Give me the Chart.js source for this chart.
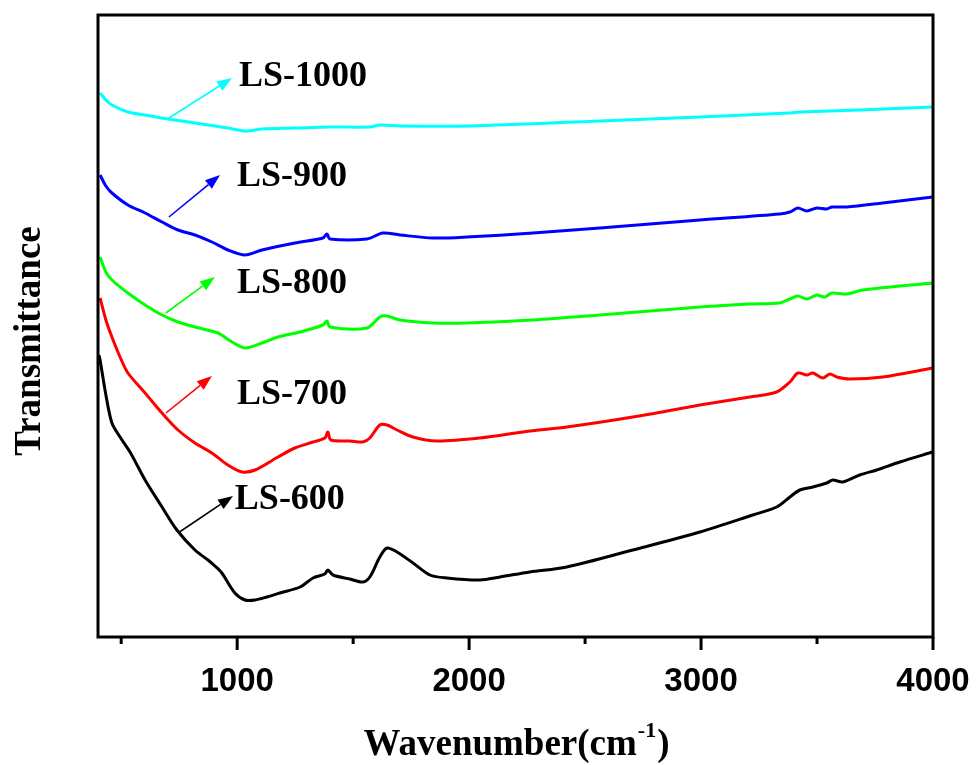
<!DOCTYPE html>
<html>
<head>
<meta charset="utf-8">
<script src="https://cdn.jsdelivr.net/npm/chart.js@4.4.1/dist/chart.umd.min.js"></script>
<style>
  html, body { margin: 0; padding: 0; background: #fff; }
</style>
</head>
<body>
<canvas id="grafico" width="977" height="765"></canvas>
<script>
// --- DATA (wavenumber cm-1, transmittance a.u.) ---
const ls600 = [[404,282],[409,277],[434,242],[460,214],[495,200],[538,185],[603,157],[676,130],[740,107],[818,87],[874,77],[904,71],[934,64],[990,44],[1034,37],[1077,37],[1128,40],[1184,44],[1271,50],[1327,59],[1378,63],[1391,67],[1413,62],[1486,58],[1542,55],[1572,60],[1615,80],[1646,89],[1689,85],[1758,74],[1831,62],[1904,59],[2046,57],[2133,60],[2262,65],[2421,70],[2706,87],[2995,105],[3223,122],[3326,130],[3383,140],[3426,147],[3482,150],[3542,154],[3568,157],[3611,155],[3684,162],[3757,167],[3857,175],[3999,185]];
const ls700 = [[409,339],[434,317],[460,300],[495,280],[529,264],[603,244],[676,224],[745,207],[818,194],[891,184],[960,172],[1021,165],[1077,167],[1176,180],[1249,189],[1327,195],[1378,199],[1391,205],[1404,197],[1486,196],[1542,195],[1572,199],[1615,212],[1646,212],[1689,207],[1758,200],[1861,196],[2046,199],[2262,206],[2421,210],[2706,220],[2995,232],[3210,240],[3326,245],[3383,255],[3417,264],[3456,262],[3482,264],[3525,259],[3555,263],[3585,260],[3641,258],[3783,260],[3999,269]];
const ls800 = [[409,380],[434,365],[460,357],[529,344],[603,332],[676,322],[745,315],[818,310],[917,304],[978,295],[1034,289],[1107,294],[1176,300],[1271,305],[1370,312],[1387,316],[1400,310],[1559,309],[1615,320],[1646,321],[1702,317],[1844,314],[1990,314],[2275,317],[2564,322],[2995,330],[3210,333],[3339,334],[3383,338],[3417,341],[3456,338],[3499,342],[3533,340],[3564,344],[3628,343],[3697,347],[3999,354]];
const ls900 = [[409,462],[434,451],[460,444],[529,432],[603,424],[676,415],[745,407],[818,402],[891,395],[960,387],[1034,382],[1107,387],[1249,394],[1370,399],[1387,403],[1400,398],[1559,398],[1628,404],[1702,402],[1844,399],[1990,400],[2275,404],[2564,409],[2995,417],[3339,423],[3383,425],[3417,429],[3456,426],[3499,429],[3542,428],[3564,430],[3628,430],[3783,434],[3999,440]];
const ls1000 = [[409,544],[434,537],[460,532],[529,525],[603,522],[702,518],[818,514],[960,509],[1034,506],[1107,508],[1249,509],[1400,510],[1572,510],[1615,512],[1702,511],[2003,511],[2564,516],[2995,520],[3383,524],[3426,525],[3684,527],[3999,530]];

const seriesNames = ["LS-1000", "LS-900", "LS-800", "LS-700", "LS-600"];
const seriesData = [ls1000, ls900, ls800, ls700, ls600];
const seriesColors = ["#00ffff", "#0000ff", "#00ff00", "#ff0000", "#000000"];

// label anchors and arrows, in data units
const labelAt = [[1008,551],[999,451],[999,344],[999,233],[990,128]];
const arrowFrom = [[706,519],[706,420],[693,324],[693,224],[745,104]];
const arrowTo = [[978,559],[926,462],[904,360],[891,261],[982,141]];

const tickValues = [500, 1000, 1500, 2000, 2500, 3000, 3500, 4000];

const serif = '"Times New Roman", "Liberation Serif", serif';
const sans = 'Arial, "Liberation Sans", sans-serif';

// --- PLUGIN: frame, ticks, labels, arrows, titles ---
const decoraciones = {
  id: "decoraciones",
  afterDatasetsDraw(chart) {
    const { ctx, chartArea: a, scales: { x, y } } = chart;
    ctx.save();

    // frame
    ctx.strokeStyle = "#000";
    ctx.lineWidth = 3;
    ctx.strokeRect(a.left, a.top, a.right - a.left, a.bottom - a.top);

    // ticks (major longer)
    tickValues.forEach(v => {
      const px = x.getPixelForValue(v);
      const len = v % 1000 === 0 ? 13 : 7;
      ctx.beginPath();
      ctx.moveTo(px, a.bottom);
      ctx.lineTo(px, a.bottom + len);
      ctx.stroke();
    });

    // arrows
    seriesNames.forEach((name, i) => {
      const x0 = x.getPixelForValue(arrowFrom[i][0]);
      const y0 = y.getPixelForValue(arrowFrom[i][1]);
      const x1 = x.getPixelForValue(arrowTo[i][0]);
      const y1 = y.getPixelForValue(arrowTo[i][1]);
      const ang = Math.atan2(y1 - y0, x1 - x0);
      const headL = 15, headW = 5.5;
      const bx = x1 - headL * Math.cos(ang), by = y1 - headL * Math.sin(ang);
      ctx.strokeStyle = seriesColors[i];
      ctx.fillStyle = seriesColors[i];
      ctx.lineWidth = 1.6;
      ctx.beginPath();
      ctx.moveTo(x0, y0);
      ctx.lineTo(bx, by);
      ctx.stroke();
      ctx.beginPath();
      ctx.moveTo(x1, y1);
      ctx.lineTo(bx + headW * Math.sin(ang), by - headW * Math.cos(ang));
      ctx.lineTo(bx - headW * Math.sin(ang), by + headW * Math.cos(ang));
      ctx.closePath();
      ctx.fill();
    });

    // series labels
    ctx.fillStyle = "#000";
    ctx.font = "bold 36px " + serif;
    ctx.textAlign = "left";
    ctx.textBaseline = "alphabetic";
    seriesNames.forEach((name, i) => {
      ctx.fillText(name, x.getPixelForValue(labelAt[i][0]), y.getPixelForValue(labelAt[i][1]));
    });

    // y title
    ctx.save();
    ctx.translate(30, (a.top + a.bottom) / 2 + 15);
    ctx.rotate(-Math.PI / 2);
    ctx.textAlign = "center";
    ctx.textBaseline = "middle";
    ctx.font = "bold 37px " + serif;
    ctx.fillText("Transmittance", 0, 0);
    ctx.restore();

    // x title with superscript
    const base = 755;
    const p1 = "Wavenumber(cm", sup = "-1", p2 = ")";
    ctx.font = "bold 37px " + serif;
    const w1 = ctx.measureText(p1).width, w3 = ctx.measureText(p2).width;
    ctx.font = "bold 22px " + serif;
    const w2 = ctx.measureText(sup).width;
    let sx = (a.left + a.right) / 2 - (w1 + w2 + w3) / 2;
    ctx.textAlign = "left";
    ctx.font = "bold 37px " + serif;
    ctx.fillText(p1, sx, base);
    ctx.font = "bold 22px " + serif;
    ctx.fillText(sup, sx + w1 + 1, base - 18);
    ctx.font = "bold 37px " + serif;
    ctx.fillText(p2, sx + w1 + w2 + 2, base);

    ctx.restore();
  }
};

// --- CHART ---
new Chart(document.getElementById("grafico"), {
  type: "line",
  data: {
    datasets: seriesNames.map((name, i) => ({
      label: name,
      data: seriesData[i].map(p => ({ x: p[0], y: p[1] })),
      borderColor: seriesColors[i],
      borderWidth: 3,
      pointRadius: 0,
      tension: 0.3,
      fill: false
    }))
  },
  options: {
    responsive: false,
    animation: false,
    layout: { padding: { left: 98, right: 44, top: 15, bottom: 54 } },
    plugins: { legend: { display: false }, tooltip: { enabled: false } },
    scales: {
      x: {
        type: "linear",
        min: 400,
        max: 4000,
        afterBuildTicks: s => { s.ticks = tickValues.map(v => ({ value: v })); },
        afterFit: s => { s.paddingLeft = 0; s.paddingRight = 0; s.height = 74; },
        grid: { display: false },
        border: { display: false },
        ticks: {
          padding: 17,
          color: "#000",
          font: { family: sans, size: 33, weight: "bold" },
          maxRotation: 0,
          autoSkip: false,
          callback: v => (v % 1000 === 0 ? String(v) : "")
        }
      },
      y: { display: false, min: 0, max: 622 }
    }
  },
  plugins: [decoraciones]
});
</script>
</body>
</html>
